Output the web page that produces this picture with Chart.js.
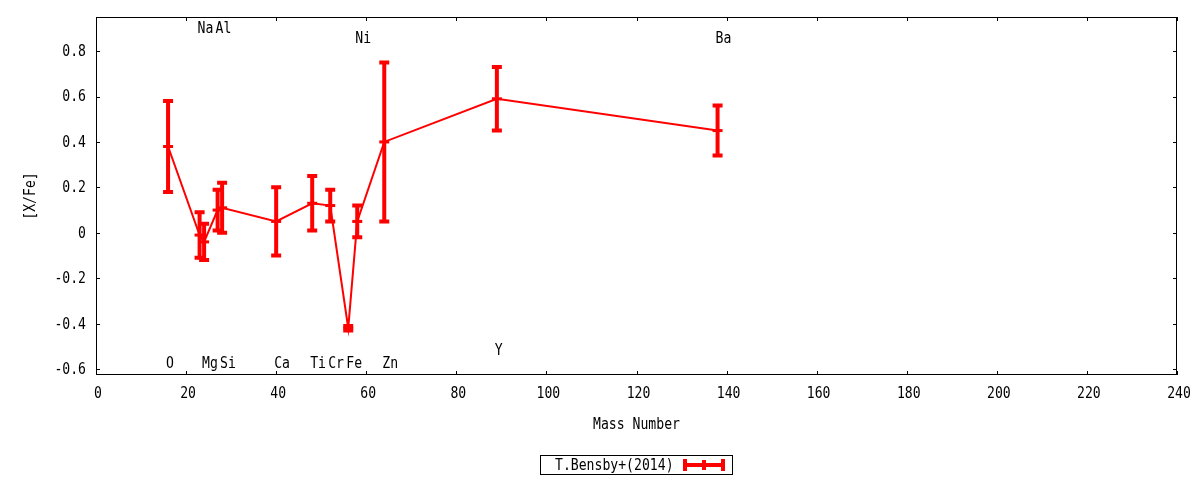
<!DOCTYPE html>
<html>
<head>
<meta charset="utf-8">
<script src="https://cdn.jsdelivr.net/npm/chart.js@4.4.1/dist/chart.umd.min.js"></script>
<style>
  html, body { margin: 0; padding: 0; background: #fff; }
  #wrap { width: 1200px; height: 480px; }
</style>
</head>
<body>
<div id="wrap"><canvas id="abund" width="1200" height="480"></canvas></div>
<script>
// [X/Fe] abundances vs mass number, T.Bensby+(2014)
const elements = ['O', 'Na', 'Mg', 'Al', 'Si', 'Ca', 'Ti', 'Cr', 'Fe', 'Ni', 'Zn', 'Y', 'Ba'];
const massNumber = [16, 23, 24, 27, 28, 40, 48, 52, 56, 58, 64, 89, 138];
const xFe = [0.38, -0.01, -0.04, 0.10, 0.11, 0.05, 0.13, 0.12, -0.42, 0.05, 0.40, 0.59, 0.45];
const xFeErr = [0.20, 0.10, 0.08, 0.09, 0.11, 0.15, 0.12, 0.07, 0.01, 0.07, 0.35, 0.14, 0.11];
// where each element name sits, in [X/Fe] units
const labelY = [-0.57, 0.905, -0.57, 0.905, -0.57, -0.57, -0.57, -0.57, -0.57, 0.86, -0.57, -0.51, 0.86];

const xTicks = [0, 20, 40, 60, 80, 100, 120, 140, 160, 180, 200, 220, 240];
const yTicks = [-0.6, -0.4, -0.2, 0, 0.2, 0.4, 0.6, 0.8];

const seriesName = 'T.Bensby+(2014)';
const RED = '#ff0000';
const FONT = '15px "DejaVu Sans Mono"';

// gnuplot's mono font is narrower than DejaVu, squeeze it a bit
function text(ctx, str, x, y, align, rot) {
  ctx.save();
  ctx.translate(x, y);
  if (rot) ctx.rotate(rot);
  ctx.scale(0.875, 1);
  ctx.textAlign = align;
  ctx.fillText(str, 0, 0);
  ctx.restore();
}

const yLabel = v => (Math.abs(v) < 1e-9 ? '0' : v.toFixed(1));

// gnuplot-style frame with inward ticks, tick labels, axis titles, element names, key
const framePlugin = {
  id: 'frame',
  afterDraw(chart) {
    const { ctx, chartArea: a, scales: { x, y } } = chart;
    ctx.save();
    ctx.strokeStyle = '#000';
    ctx.lineWidth = 1;
    ctx.strokeRect(Math.round(a.left) + 0.5, Math.round(a.top) + 0.5,
                   Math.round(a.right - a.left) - 1, Math.round(a.bottom - a.top) - 1);
    ctx.beginPath();
    xTicks.forEach(v => {
      const px = Math.round(x.getPixelForValue(v)) + 0.5;
      ctx.moveTo(px, a.bottom); ctx.lineTo(px, a.bottom - 4);
      ctx.moveTo(px, a.top); ctx.lineTo(px, a.top + 4);
    });
    yTicks.forEach(v => {
      const py = Math.round(y.getPixelForValue(v)) + 0.5;
      ctx.moveTo(a.left, py); ctx.lineTo(a.left + 4, py);
      ctx.moveTo(a.right, py); ctx.lineTo(a.right - 4, py);
    });
    ctx.stroke();

    ctx.fillStyle = '#000';
    ctx.font = FONT;
    ctx.textBaseline = 'middle';

    xTicks.forEach(v => text(ctx, String(v), x.getPixelForValue(v) + 2, a.bottom + 19, 'center'));
    yTicks.forEach(v => text(ctx, yLabel(v), a.left - 10, y.getPixelForValue(v) + 1, 'right'));

    elements.forEach((el, i) => {
      text(ctx, el, x.getPixelForValue(massNumber[i]) - 2, y.getPixelForValue(labelY[i]) + 2, 'left');
    });

    text(ctx, 'Mass Number', (a.left + a.right) / 2, 425, 'center');
    text(ctx, '[X/Fe]', 31, (a.top + a.bottom) / 2, 'center', -Math.PI / 2);

    // key box
    ctx.strokeRect(540.5, 455.5, 192, 19);
    text(ctx, seriesName, 555, 466, 'left');
    ctx.strokeStyle = RED;
    ctx.lineWidth = 4;
    ctx.beginPath();
    ctx.moveTo(683, 465); ctx.lineTo(725, 465);
    ctx.moveTo(685, 459); ctx.lineTo(685, 471);
    ctx.moveTo(723, 459); ctx.lineTo(723, 471);
    ctx.moveTo(704, 460); ctx.lineTo(704, 470);
    ctx.stroke();
    ctx.restore();
  }
};

// vertical error bars with caps, drawn through the scales
const errorBarPlugin = {
  id: 'errorBars',
  afterDatasetsDraw(chart) {
    const { ctx, scales: { x, y } } = chart;
    ctx.save();
    ctx.strokeStyle = RED;
    ctx.lineWidth = 4;
    ctx.lineCap = 'butt';
    ctx.beginPath();
    massNumber.forEach((m, i) => {
      const px = x.getPixelForValue(m);
      const lo = y.getPixelForValue(xFe[i] - xFeErr[i]);
      const hi = y.getPixelForValue(xFe[i] + xFeErr[i]);
      ctx.moveTo(px, lo); ctx.lineTo(px, hi);
      ctx.moveTo(px - 5, lo); ctx.lineTo(px + 5, lo);
      ctx.moveTo(px - 5, hi); ctx.lineTo(px + 5, hi);
    });
    ctx.stroke();
    ctx.restore();
  }
};

new Chart(document.getElementById('abund'), {
  type: 'line',
  data: {
    datasets: [{
      label: seriesName,
      data: massNumber.map((m, i) => ({ x: m, y: xFe[i] })),
      borderColor: RED,
      backgroundColor: RED,
      borderWidth: 2,
      pointStyle: 'line',
      pointRadius: 5,
      pointBorderWidth: 3,
      pointBorderColor: RED,
      tension: 0,
      fill: false
    }]
  },
  options: {
    responsive: false,
    animation: false,
    devicePixelRatio: 1,
    layout: { padding: { left: 0, right: 23, top: 17, bottom: 0 } },
    plugins: { legend: { display: false }, tooltip: { enabled: false } },
    scales: {
      x: {
        type: 'linear',
        min: 0,
        max: 240,
        afterBuildTicks: s => { s.ticks = xTicks.map(v => ({ value: v })); },
        afterFit: s => { s.height = 105; },
        grid: { display: false },
        border: { display: false },
        ticks: { display: false }
      },
      y: {
        type: 'linear',
        min: -0.626,
        max: 0.95,
        afterBuildTicks: s => { s.ticks = yTicks.map(v => ({ value: v })); },
        afterFit: s => { s.width = 96; },
        grid: { display: false },
        border: { display: false },
        ticks: { display: false }
      }
    }
  },
  plugins: [errorBarPlugin, framePlugin]
});
</script>
</body>
</html>
